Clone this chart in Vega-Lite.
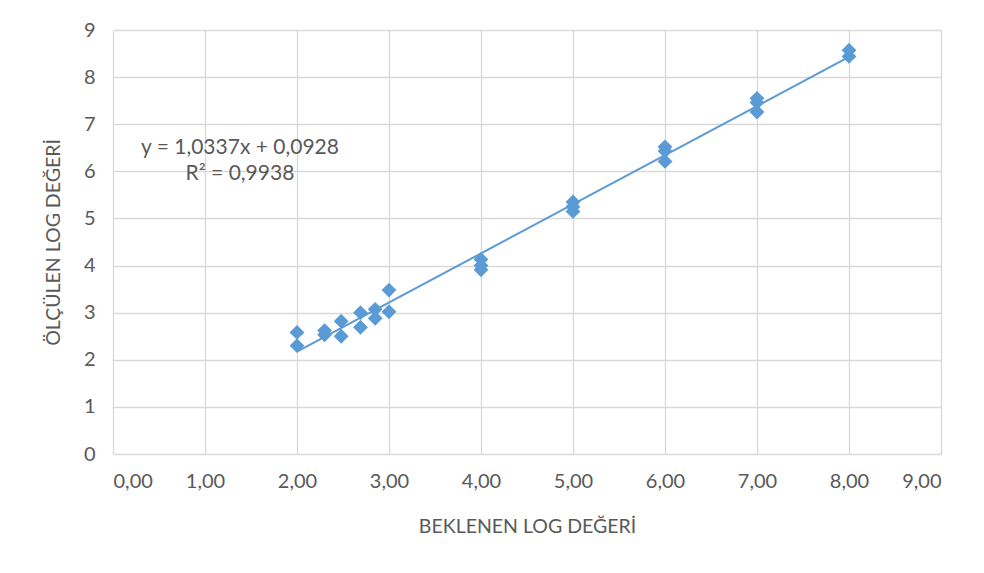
{
  "$schema": "https://vega.github.io/schema/vega-lite/v6.json",
  "autosize": "none",
  "width": 828,
  "height": 424,
  "padding": {"left": 113, "top": 30, "right": 43, "bottom": 119},
  "background": "white",
  "config": {
    "font": "Lato",
    "view": {"stroke": null},
    "axis": {
      "labelColor": "#595959",
      "titleColor": "#595959",
      "labelFont": "Lato",
      "titleFont": "Lato",
      "labelFontSize": 20,
      "titleFontSize": 19.5,
      "titleFontWeight": "normal",
      "gridColor": "#D9D9D9",
      "gridWidth": 1.3,
      "domain": false,
      "ticks": false
    }
  },
  "datasets": {
    "pts": [
      {"beklenen": 2.0, "olculen": 2.58},
      {"beklenen": 2.0, "olculen": 2.30},
      {"beklenen": 2.3, "olculen": 2.62},
      {"beklenen": 2.3, "olculen": 2.53},
      {"beklenen": 2.48, "olculen": 2.82},
      {"beklenen": 2.48, "olculen": 2.50},
      {"beklenen": 2.69, "olculen": 3.00},
      {"beklenen": 2.69, "olculen": 2.69},
      {"beklenen": 2.85, "olculen": 3.07},
      {"beklenen": 2.85, "olculen": 2.88},
      {"beklenen": 3.0, "olculen": 3.48},
      {"beklenen": 3.0, "olculen": 3.02},
      {"beklenen": 4.0, "olculen": 4.13},
      {"beklenen": 4.0, "olculen": 4.00},
      {"beklenen": 4.0, "olculen": 3.91},
      {"beklenen": 5.0, "olculen": 5.35},
      {"beklenen": 5.0, "olculen": 5.25},
      {"beklenen": 5.0, "olculen": 5.15},
      {"beklenen": 6.0, "olculen": 6.52},
      {"beklenen": 6.0, "olculen": 6.43},
      {"beklenen": 6.0, "olculen": 6.21},
      {"beklenen": 7.0, "olculen": 7.55},
      {"beklenen": 7.0, "olculen": 7.46},
      {"beklenen": 7.0, "olculen": 7.26},
      {"beklenen": 8.0, "olculen": 8.57},
      {"beklenen": 8.0, "olculen": 8.44}
    ],
    "notes": [
      {"beklenen": 1.38, "olculen": 6.49, "label": "y = 1,0337x + 0,0928"},
      {"beklenen": 1.38, "olculen": 5.95, "label": "R² = 0,9938"}
    ]
  },
  "layer": [
    {
      "data": {"name": "pts"},
      "mark": {"type": "point", "shape": "diamond", "filled": true, "size": 220, "color": "#5B9BD5", "opacity": 1},
      "encoding": {
        "x": {
          "field": "beklenen", "type": "quantitative",
          "scale": {"domain": [0, 9], "nice": false},
          "axis": {
            "title": "BEKLENEN LOG DEĞERİ",
            "values": [0,1,2,3,4,5,6,7,8,9],
            "labelExpr": "replace(format(datum.value, '.2f'), '.', ',')",
            "labelPadding": 17,
            "titlePadding": 26
          }
        },
        "y": {
          "field": "olculen", "type": "quantitative",
          "scale": {"domain": [0, 9], "nice": false},
          "axis": {
            "title": "ÖLÇÜLEN LOG DEĞERİ",
            "values": [0,1,2,3,4,5,6,7,8,9],
            "format": "d",
            "labelPadding": 18,
            "titlePadding": 20
          }
        }
      }
    },
    {
      "data": {"name": "pts"},
      "transform": [
        {"regression": "olculen", "on": "beklenen", "method": "linear", "extent": [2, 8]}
      ],
      "mark": {"type": "line", "color": "#5B9BD5", "strokeWidth": 2},
      "encoding": {
        "x": {"field": "beklenen", "type": "quantitative"},
        "y": {"field": "olculen", "type": "quantitative"}
      }
    },
    {
      "data": {"name": "notes"},
      "mark": {"type": "text", "fontSize": 21, "color": "#595959", "font": "Lato", "align": "center", "baseline": "middle"},
      "encoding": {
        "x": {"field": "beklenen", "type": "quantitative"},
        "y": {"field": "olculen", "type": "quantitative"},
        "text": {"field": "label"}
      }
    }
  ]
}
